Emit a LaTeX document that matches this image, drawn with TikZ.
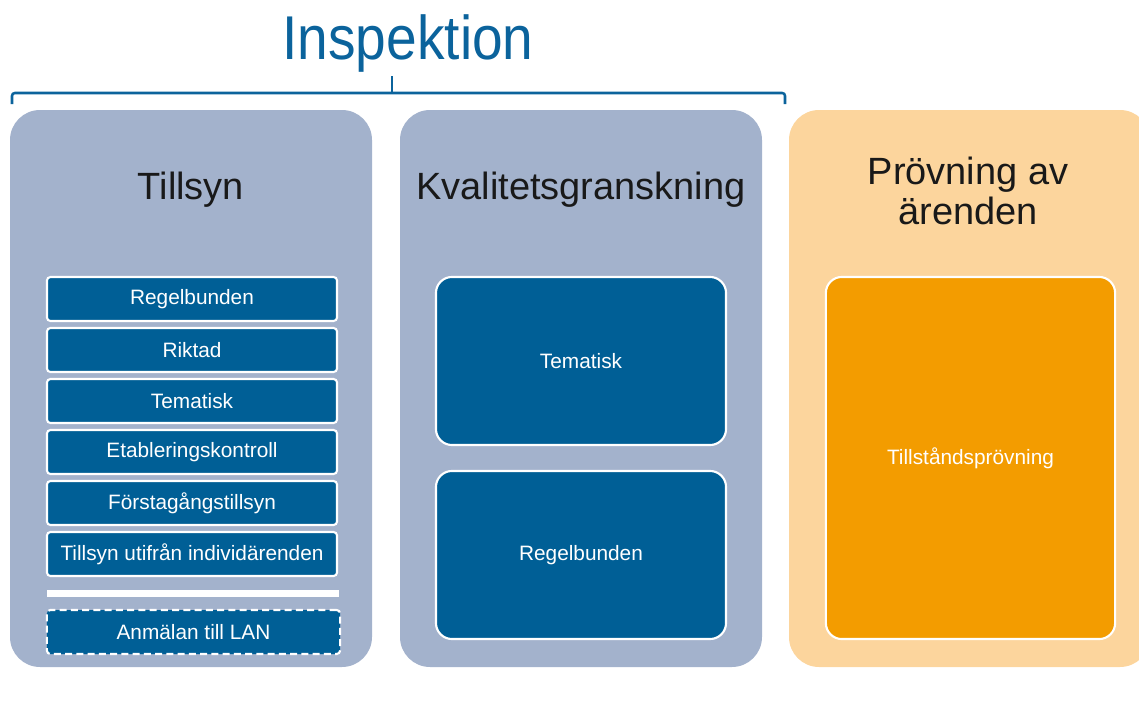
\documentclass[tikz,border=0pt]{standalone}
\usepackage{fontspec}
\setmainfont{Liberation Sans}
\definecolor{inspblue}{HTML}{0B639C}
\definecolor{panelgrey}{HTML}{A3B2CC}
\definecolor{boxblue}{HTML}{005F96}
\definecolor{panelorange}{HTML}{FCD59D}
\definecolor{boxorange}{HTML}{F39C00}
\begin{document}
\begin{tikzpicture}[x=0.025cm, y=-0.025cm,
    panel/.style={rounded corners=0.75cm},
    heading/.style={text=black!90, font=\fontsize{27}{28.5}\selectfont, align=center},
    tbox/.style={draw=white, line width=1.5pt, fill=boxblue, rounded corners=2.5pt,
        minimum width=7.25cm, minimum height=1.1cm, text=white,
        font=\fontsize{14.8}{16}\selectfont},
    bigbox/.style={draw=white, line width=1.5pt, rounded corners=0.4cm,
        minimum width=7.25cm, text=white, font=\fontsize{14.8}{16}\selectfont}]
    \useasboundingbox (0,0) rectangle (1139,711);

    % Rubrik och klammer
    \node[text=inspblue, font=\fontsize{44}{46}\selectfont] (insp) at (408,44)
        {\scalebox{0.89}[1]{Inspektion}};
    \draw[inspblue, line width=1.8pt, rounded corners=2pt] (12,104) |- (785,93) -- (785,104);
    \draw[inspblue, line width=1.8pt] (392,93) -- (392,76);

    % Paneler
    \fill[panelgrey, panel] (10,110) rectangle (372,667);
    \fill[panelgrey, panel] (400,110) rectangle (762,667);
    \fill[panelorange, panel] (789,110) rectangle (1150,667);

    % Tillsyn
    \node[heading] (tillsyn) at (191,190) {Tillsyn};
    \node[tbox] (regel) at (192,299) {Regelbunden};
    \node[tbox] (riktad) at (192,350) {Riktad};
    \node[tbox] (tema) at (192,401) {Tematisk};
    \node[tbox] (etabl) at (192,452) {Etableringskontroll};
    \node[tbox] (forsta) at (192,503) {Förstagångstillsyn};
    \node[tbox] (indiv) at (192,554) {Tillsyn utifrån individärenden};
    \fill[white] (47,590) rectangle (339,597);
    \node[tbox, dashed, dash pattern=on 5pt off 3pt, minimum width=7.33cm] (anm) at (193.5,632)
        {Anmälan till LAN};

    % Kvalitetsgranskning
    \node[heading] (kvalitet) at (581,190) {Kvalitetsgranskning};
    \node[bigbox, fill=boxblue, minimum height=4.2cm] (kvtema) at (581,361) {Tematisk};
    \node[bigbox, fill=boxblue, minimum height=4.2cm] (kvregel) at (581,555) {Regelbunden};

    % Prövning av ärenden
    \node[heading] (provning) at (968,191) {Prövning av\\ärenden};
    \node[bigbox, fill=boxorange, minimum width=7.23cm, minimum height=9.05cm] (tillstand)
        at (970.5,458) {Tillståndsprövning};
\end{tikzpicture}
\end{document}
